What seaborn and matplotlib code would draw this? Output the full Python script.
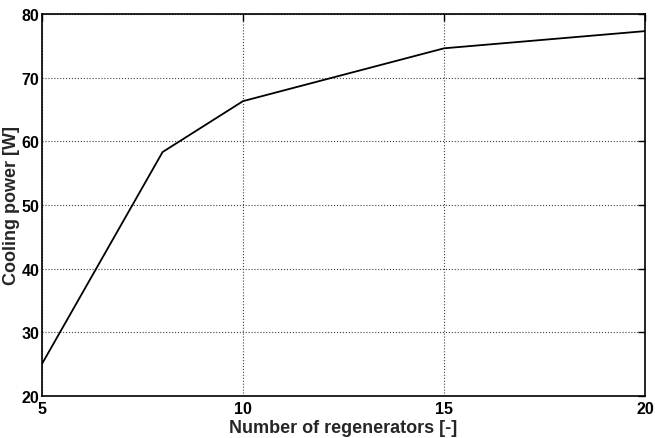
import matplotlib
matplotlib.use("Agg")
import matplotlib.pyplot as plt
import seaborn as sns
import pandas as pd

regenerators = [5, 8, 10, 15, 20]
cooling_power = [25.0, 58.3, 66.3, 74.6, 77.3]
x_ticks = [5, 10, 15, 20]
y_ticks = [20, 30, 40, 50, 60, 70, 80]

sns.set_style("white")
plt.rcParams['font.family'] = ['Liberation Sans', 'DejaVu Sans']
plt.rcParams['font.weight'] = 'bold'

df = pd.DataFrame({"n": regenerators, "power": cooling_power})

fig = plt.figure(figsize=(6.55, 4.39), dpi=100)
ax = fig.add_axes([0.064, 0.096, 0.921, 0.870])
sns.lineplot(data=df, x="n", y="power", color="black", linewidth=1.3, ax=ax)

ax.set_xlim(5, 20)
ax.set_ylim(20, 80)
ax.set_xticks(x_ticks)
ax.set_yticks(y_ticks)
ax.grid(True, linestyle=":", color="0.25", linewidth=0.8)
ax.tick_params(direction="in", length=5, width=1, top=True, right=True,
               labelsize=11.5, pad=2, colors="black")
ax.tick_params(axis="x", pad=4)
for lbl in ax.get_xticklabels() + ax.get_yticklabels():
    lbl.set_fontweight("bold")
for s in ax.spines.values():
    s.set_color("black")
    s.set_linewidth(1.2)
ax.set_xlabel("Number of regenerators [-]", fontsize=13, fontweight="bold", labelpad=2)
ax.set_ylabel("Cooling power [W]", fontsize=13, fontweight="bold")
ax.yaxis.set_label_coords(-0.037, 0.5)

fig.savefig("out.png", dpi=100)
